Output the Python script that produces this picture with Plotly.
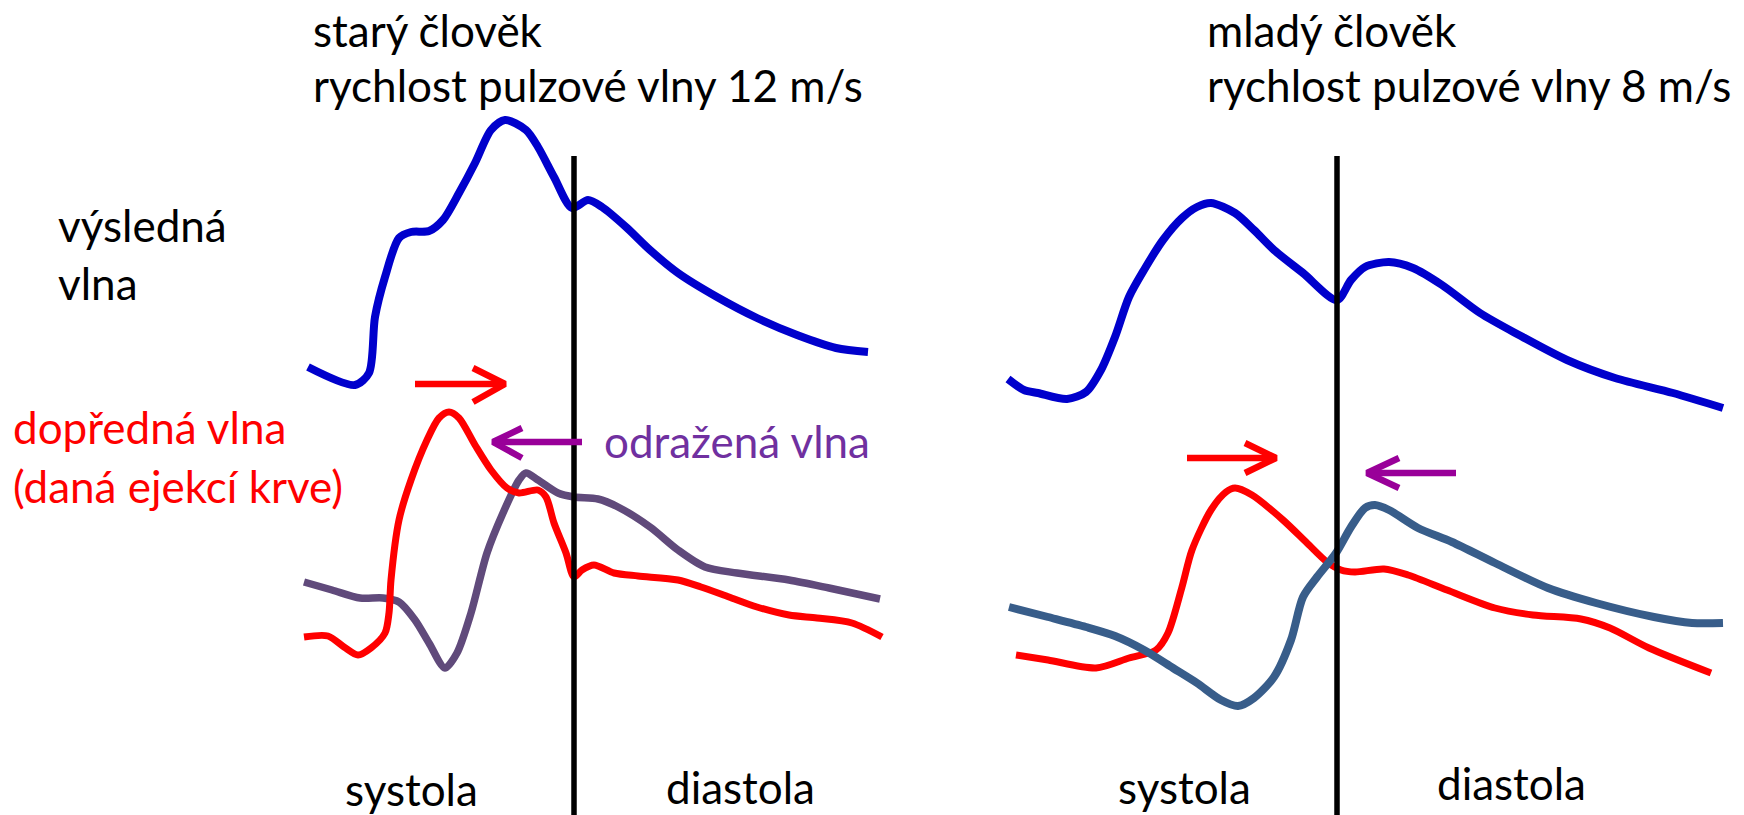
import plotly.graph_objects as go

# ---------------------------------------------------------------
# Traced waveforms (drawing units: x to the right, y downward)
# ---------------------------------------------------------------

# starý člověk — výsledná vlna
old_result_x = [308, 355, 369, 375, 385, 399, 411, 429, 443, 459, 475, 491, 505, 526,
                538, 554, 572, 588, 602, 626, 650, 678, 717, 757, 797, 836, 868]
old_result_y = [367, 385, 373, 317, 277, 238, 232, 231, 220, 193, 163, 130, 120, 130,
                147, 177, 208, 200, 207, 227, 250, 273, 297, 318, 335, 348, 352]

# starý člověk — dopředná vlna
old_forward_x = [304, 328, 344, 358, 371, 385, 389, 391, 399, 411, 427, 439, 449, 459,
                 475, 491, 507, 519, 538, 546, 554, 566, 574, 582, 594, 614, 638, 678,
                 701, 729, 757, 789, 817, 852, 882]
old_forward_y = [637, 636, 647, 655, 648, 633, 613, 580, 520, 480, 440, 418, 412, 418,
                 445, 470, 488, 493, 490, 497, 523, 553, 577, 570, 565, 573, 576, 580,
                 587, 597, 607, 615, 618, 623, 637]

# starý člověk — odražená vlna
old_reflected_x = [304, 332, 360, 383, 399, 415, 429, 445, 457, 471, 487, 503, 519, 526,
                   538, 558, 574, 598, 618, 650, 678, 705, 737, 789, 829, 880]
old_reflected_y = [582, 590, 598, 598, 602, 620, 643, 668, 653, 613, 553, 513, 480, 473,
                   480, 493, 497, 499, 507, 527, 550, 567, 573, 580, 588, 599]

# mladý člověk — výsledná vlna
young_result_x = [1008, 1024, 1038, 1067, 1086, 1101, 1115, 1129, 1144, 1163, 1182, 1197,
                  1211, 1235, 1254, 1274, 1303, 1337, 1351, 1365, 1389, 1413, 1442, 1480,
                  1519, 1567, 1615, 1673, 1723]
young_result_y = [379, 390, 393, 399, 392, 370, 337, 297, 270, 240, 218, 207,
                  203, 213, 230, 250, 273, 300, 280, 267, 262, 268, 285, 313,
                  335, 360, 378, 393, 408]

# mladý člověk — dopředná vlna
young_forward_x = [1016, 1048, 1096, 1129, 1156, 1168, 1182, 1192, 1211, 1226, 1235, 1252,
                   1283, 1307, 1327, 1341, 1355, 1384, 1408, 1447, 1495, 1533, 1581, 1610,
                   1649, 1711]
young_forward_y = [655, 660, 668, 658, 650, 633, 587, 550, 510, 492, 488, 495,
                   520, 543, 562, 570, 572, 569, 575, 590, 608, 615, 619, 628,
                   648, 673]

# mladý člověk — odražená vlna
young_reflected_x = [1009, 1048, 1086, 1115, 1144, 1173, 1197, 1221, 1238, 1254, 1274, 1291,
                     1303, 1317, 1336, 1351, 1365, 1375, 1389, 1418, 1452, 1495, 1548, 1596,
                     1654, 1692, 1723]
young_reflected_y = [607, 617, 627, 636, 650, 668, 683, 700, 706, 698, 677, 640,
                     597, 577, 553, 527, 508, 505, 510, 528, 542, 563, 588, 603,
                     617, 623, 623]

# hranice systola / diastola
divider_x = [574, 1337]
divider_top = 156
divider_bottom = 815

# směrové šipky: ocas, hrot, konce ramen hrotu
arrows = {
    "old_forward":     dict(tail=(415, 384), tip=(505, 384), barbs=((473, 368), (473, 402)), color="#FF0000"),
    "old_reflected":   dict(tail=(582, 442), tip=(493, 442), barbs=((522, 428), (522, 458)), color="#990099"),
    "young_forward":   dict(tail=(1187, 458), tip=(1276, 458), barbs=((1245, 443), (1245, 473)), color="#FF0000"),
    "young_reflected": dict(tail=(1456, 473), tip=(1367, 473), barbs=((1399, 458), (1399, 488)), color="#990099"),
}

# popisky: text, x vlevo, svislý střed písma, barva
labels = [
    ("starý člověk", 311, 30, "black"),
    ("rychlost pulzové vlny 12 m/s", 311, 85, "black"),
    ("mladý člověk", 1205, 30, "black"),
    ("rychlost pulzové vlny 8 m/s", 1205, 85, "black"),
    ("výsledná", 56, 225, "black"),
    ("vlna", 56, 283, "black"),
    ("dopředná vlna", 11, 427, "#FF0000"),
    ("(daná ejekcí krve)", 11, 486, "#FF0000"),
    ("odražená vlna", 602, 441, "#7030A0"),
    ("systola", 343, 789, "black"),
    ("diastola", 664, 787, "black"),
    ("systola", 1116, 787, "black"),
    ("diastola", 1435, 783, "black"),
]

FONT = "Lato"
FONT_SIZE = 44

fig = go.Figure()


def add_wave(x, y, color, width):
    fig.add_trace(go.Scatter(x=x, y=y, mode="lines",
                             line=dict(color=color, width=width, shape="spline", smoothing=0.8),
                             hoverinfo="skip", showlegend=False))


add_wave(old_result_x, old_result_y, "#0000CC", 8)
add_wave(old_reflected_x, old_reflected_y, "#604A7B", 7.5)
add_wave(old_forward_x, old_forward_y, "#FF0000", 7)
add_wave(young_result_x, young_result_y, "#0000CC", 8)
add_wave(young_forward_x, young_forward_y, "#FF0000", 7)
add_wave(young_reflected_x, young_reflected_y, "#385D8A", 8)

for dx in divider_x:
    fig.add_trace(go.Scatter(x=[dx, dx], y=[divider_top, divider_bottom], mode="lines",
                             line=dict(color="black", width=5.5),
                             hoverinfo="skip", showlegend=False))

for a in arrows.values():
    (tx, ty), (px, py) = a["tail"], a["tip"]
    (b1x, b1y), (b2x, b2y) = a["barbs"]
    fig.add_trace(go.Scatter(x=[tx, px, None, b1x, px, b2x],
                             y=[ty, py, None, b1y, py, b2y],
                             mode="lines", line=dict(color=a["color"], width=6.5),
                             hoverinfo="skip", showlegend=False))

for text, lx, mid, color in labels:
    fig.add_annotation(x=lx, y=mid, xref="x", yref="y", text=text,
                       showarrow=False, xanchor="left", yanchor="middle",
                       font=dict(family=FONT, size=FONT_SIZE, color=color))

fig.update_xaxes(range=[0, 1744], visible=False, fixedrange=True)
fig.update_yaxes(range=[815, 0], visible=False, fixedrange=True)
fig.update_layout(width=1744, height=815, margin=dict(l=0, r=0, t=0, b=0),
                  plot_bgcolor="white", paper_bgcolor="white")
fig.write_html("out.html", include_plotlyjs=True)
